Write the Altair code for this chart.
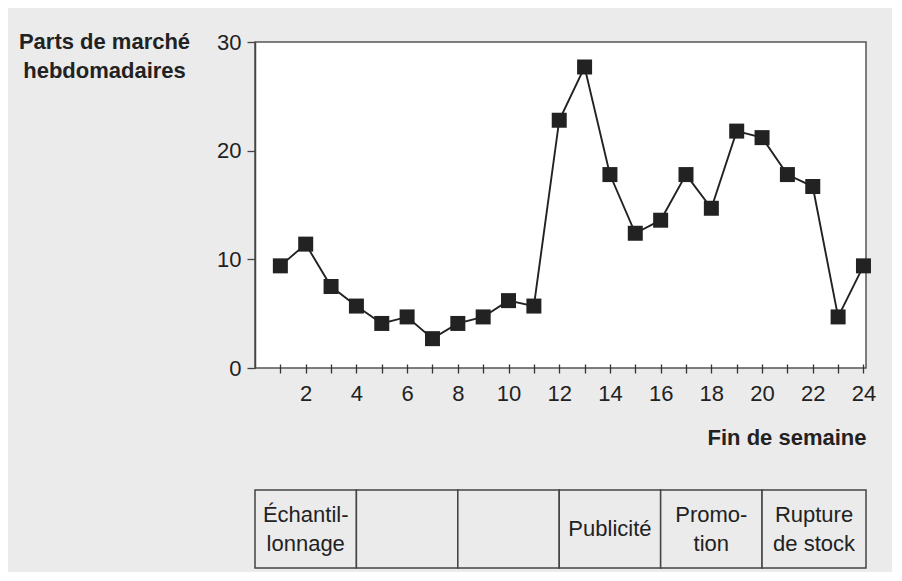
import altair as alt
import pandas as pd

# ---- data ----
weeks = list(range(1, 25))
parts = [9.4, 11.4, 7.5, 5.7, 4.1, 4.7, 2.7, 4.1, 4.7, 6.2, 5.7, 22.8,
         27.7, 17.8, 12.4, 13.6, 17.8, 14.7, 21.8, 21.2, 17.8, 16.7, 4.7, 9.4]

y_ticks = [0, 10, 20, 30]

phase_start = [0, 4, 8, 12, 16, 20]
phase_end = [4, 8, 12, 16, 20, 24.1]
phase_lines = [["Échantil-", "lonnage"], [], [], ["Publicité"], ["Promo-", "tion"], ["Rupture", "de stock"]]

FONT = "Liberation Sans"
BG = "#ebebeb"
INK = "#222222"
FS = 22

df = pd.DataFrame({"semaine": weeks, "part": parts})
phases = pd.DataFrame({"debut": phase_start, "fin": phase_end})

rows = []
for s, e, lines in zip(phase_start, phase_end, phase_lines):
    n = len(lines)
    for i, t in enumerate(lines):
        rows.append({"centre": (s + e) / 2, "ligne": (n - 1) / 2 - i, "texte": t})
labels_df = pd.DataFrame(rows)

xscale = alt.Scale(domain=[0, 24.1], nice=False, zero=False)
yscale = alt.Scale(domain=[0, 30], nice=False)

x_axis = alt.Axis(
    values=weeks,
    labelExpr="datum.value % 2 == 0 ? datum.label : ''",
    tickSize=9, offset=-4, domain=False, grid=False,
    tickColor="#333", tickWidth=1.3,
    labelFont=FONT, labelFontSize=FS, labelColor=INK, labelPadding=10,
    labelFlush=False, labelOverlap=False,
    title="Fin de semaine", titleFont=FONT, titleFontSize=FS,
    titleFontWeight="bold", titleAnchor="end", titleColor=INK, titlePadding=23,
)

y_axis = alt.Axis(
    values=y_ticks, tickSize=8, tickColor="#444", tickWidth=1.3,
    domainColor="#444", domainWidth=1.5, grid=False,
    labelFont=FONT, labelFontSize=FS, labelColor=INK, labelPadding=6,
    labelFlush=False,
    title=["Parts de marché", "hebdomadaires"], titleAngle=0,
    titleX=-151, titleY=6, titleAlign="center", titleBaseline="alphabetic",
    titleFont=FONT, titleFontSize=FS, titleFontWeight="bold",
    titleLineHeight=29, titleColor=INK,
)

base = alt.Chart(df).encode(
    x=alt.X("semaine:Q", scale=xscale, axis=x_axis),
    y=alt.Y("part:Q", scale=yscale, axis=y_axis),
)
line = base.mark_line(color=INK, strokeWidth=1.9)
points = base.mark_point(shape="square", filled=True, size=225, color=INK, opacity=1)

top = alt.layer(line, points).properties(
    width=611, height=326,
    view=alt.ViewBackground(fill="white", stroke="#555", strokeWidth=1.5),
)

TABLE_H = 78
LINE_H = 29
half = TABLE_H / LINE_H / 2

rect = alt.Chart(phases).mark_rect(fill=BG, stroke="#444", strokeWidth=1.5).encode(
    x=alt.X("debut:Q", scale=xscale, axis=None),
    x2="fin:Q",
)
text = alt.Chart(labels_df).mark_text(
    font=FONT, fontSize=FS, color=INK, baseline="middle", align="center",
).encode(
    x=alt.X("centre:Q", scale=xscale, axis=None),
    y=alt.Y("ligne:Q", scale=alt.Scale(domain=[-half, half], nice=False, zero=False), axis=None),
    text="texte:N",
)
bottom = alt.layer(rect, text).properties(
    width=611, height=TABLE_H,
    view=alt.ViewBackground(fill=BG, strokeOpacity=0),
)

chart = alt.vconcat(top, bottom, spacing=40).resolve_scale(
    x="independent", y="independent"
).configure(
    background=BG,
    padding={"left": 9, "top": 21, "right": 15, "bottom": 3},
)

chart.save("out.html", embed_options={"renderer": "svg", "actions": False})
